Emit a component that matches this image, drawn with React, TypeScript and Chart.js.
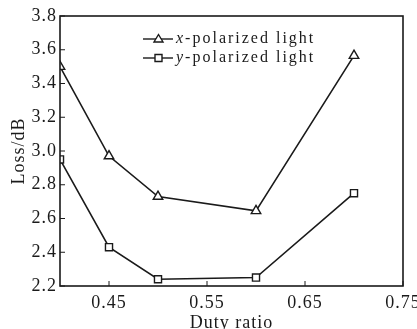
import React, { useEffect, useRef } from "react";
import { Chart, registerables } from "chart.js";

Chart.register(...registerables);

const dutyRatio = [0.4, 0.45, 0.5, 0.6, 0.7];
const xPolarized = [3.5, 2.97, 2.73, 2.645, 3.565];
const yPolarized = [2.95, 2.43, 2.24, 2.25, 2.75];
const xTicks = [0.45, 0.55, 0.65, 0.75];
const seriesNames = ["-polarized light", "-polarized light"];
const seriesPrefix = ["x", "y"];
const seriesMarkers = ["triangle", "rect"];

const FONT = "'Liberation Serif', 'Times New Roman', serif";
const INK = "#1a1a1a";

const spacingPlugin = {
  id: "spacing",
  beforeUpdate(chart: any) {
    chart.ctx.letterSpacing = "1px";
  },
  beforeDraw(chart: any) {
    chart.ctx.letterSpacing = "1px";
  },
};

const framePlugin = {
  id: "frame",
  afterDraw(chart: any) {
    const { ctx, chartArea: a, scales } = chart;
    ctx.save();
    ctx.strokeStyle = INK;
    ctx.lineWidth = 1.6;
    ctx.strokeRect(a.left, a.top, a.right - a.left, a.bottom - a.top);
    ctx.lineWidth = 1;
    scales.x.ticks.forEach((t: any) => {
      const px = scales.x.getPixelForValue(t.value);
      ctx.beginPath();
      ctx.moveTo(px, a.bottom);
      ctx.lineTo(px, a.bottom - 5);
      ctx.stroke();
    });
    scales.y.ticks.forEach((t: any) => {
      const py = scales.y.getPixelForValue(t.value);
      ctx.beginPath();
      ctx.moveTo(a.left, py);
      ctx.lineTo(a.left + 5, py);
      ctx.stroke();
    });
    const lx = 143;
    const rows = [39, 58];
    rows.forEach((ry, i) => {
      ctx.strokeStyle = INK;
      ctx.lineWidth = 1.4;
      ctx.beginPath();
      ctx.moveTo(lx, ry);
      ctx.lineTo(lx + 30, ry);
      ctx.stroke();
      const mx = lx + 15.5;
      ctx.fillStyle = "#fff";
      ctx.beginPath();
      if (seriesMarkers[i] === "triangle") {
        ctx.moveTo(mx, ry - 4.5);
        ctx.lineTo(mx + 4.5, ry + 3);
        ctx.lineTo(mx - 4.5, ry + 3);
        ctx.closePath();
      } else {
        ctx.rect(mx - 3.5, ry - 3.5, 7, 7);
      }
      ctx.fill();
      ctx.stroke();
      ctx.fillStyle = INK;
      ctx.textBaseline = "middle";
      ctx.textAlign = "left";
      ctx.letterSpacing = "2px";
      ctx.font = "italic 16px " + FONT;
      ctx.fillText(seriesPrefix[i], lx + 33, ry);
      const w = ctx.measureText(seriesPrefix[i]).width;
      ctx.font = "16px " + FONT;
      ctx.fillText(seriesNames[i], lx + 33 + w, ry);
    });
    ctx.restore();
  },
};

export default function App() {
  const ref = useRef<HTMLCanvasElement>(null);
  useEffect(() => {
    const chart = new Chart(ref.current!, {
      type: "line",
      data: {
        datasets: [
          {
            label: "x-polarized light",
            data: dutyRatio.map((d, i) => ({ x: d, y: xPolarized[i] })),
            borderColor: INK,
            borderWidth: 1.6,
            pointStyle: "triangle",
            pointRadius: 5.5,
            pointBackgroundColor: "#fff",
            pointBorderColor: INK,
            pointBorderWidth: 1.4,
            tension: 0,
          },
          {
            label: "y-polarized light",
            data: dutyRatio.map((d, i) => ({ x: d, y: yPolarized[i] })),
            borderColor: INK,
            borderWidth: 1.6,
            pointStyle: "rect",
            pointRadius: 5,
            pointBackgroundColor: "#fff",
            pointBorderColor: INK,
            pointBorderWidth: 1.4,
            tension: 0,
          },
        ],
      },
      options: {
        animation: false,
        responsive: false,
        layout: { padding: { top: 16, right: 14, left: 0, bottom: -5 } },
        plugins: { legend: { display: false }, tooltip: { enabled: false } },
        scales: {
          x: {
            type: "linear",
            min: 0.4,
            max: 0.75,
            afterBuildTicks: (s: any) => {
              s.ticks = xTicks.map((v) => ({ value: v }));
            },
            afterFit: (s: any) => {
              s.height = 48;
              s.paddingLeft = 0;
              s.paddingRight = 0;
            },
            grid: { display: false, drawTicks: false },
            border: { display: false },
            ticks: {
              color: INK,
              font: { family: FONT, size: 18 },
              padding: 6,
              callback: (v: any) => Number(v).toFixed(2),
              maxRotation: 0,
            },
            title: {
              display: true,
              text: "Duty ratio",
              color: INK,
              font: { family: FONT, size: 18 },
              padding: { top: 0, bottom: 0 },
            },
          },
          y: {
            min: 2.2,
            max: 3.8,
            afterFit: (s: any) => {
              s.width = 60;
              s.paddingTop = 0;
              s.paddingBottom = 0;
            },
            grid: { display: false, drawTicks: false },
            border: { display: false },
            ticks: {
              stepSize: 0.2,
              color: INK,
              font: { family: FONT, size: 18 },
              padding: 3,
              callback: (v: any) => Number(v).toFixed(1),
            },
            title: {
              display: true,
              text: "Loss/dB",
              color: INK,
              font: { family: FONT, size: 18 },
              padding: { top: 8, bottom: 0 },
            },
          },
        },
      },
      plugins: [spacingPlugin, framePlugin],
    } as any);
    return () => chart.destroy();
  }, []);
  return (
    <div style={{ position: "absolute", left: 0, top: 0, width: 417, height: 329, background: "#fff" }}>
      <canvas ref={ref} width={417} height={329} />
    </div>
  );
}
